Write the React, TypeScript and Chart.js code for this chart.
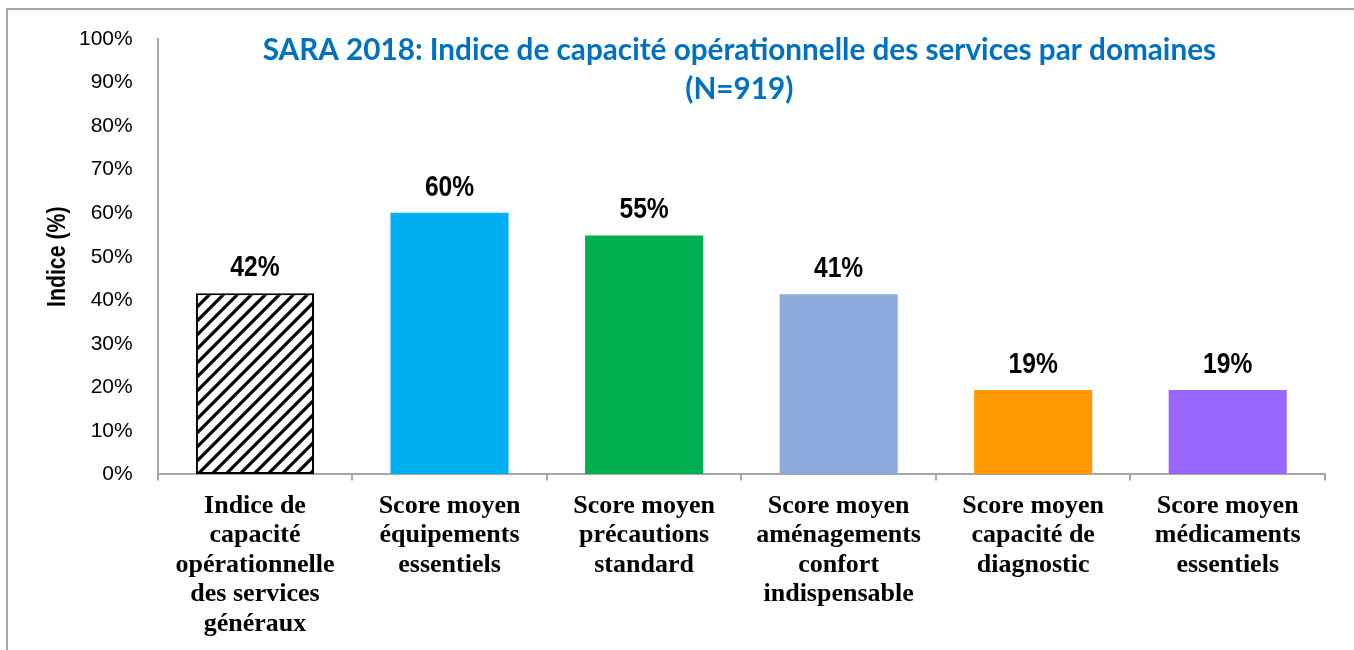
import React, { useEffect, useRef } from "react";
import { Chart, registerables } from "chart.js";

Chart.register(...registerables);

const categories: string[][] = [
  ["Indice de", "capacité", "opérationnelle", "des services", "généraux"],
  ["Score moyen", "équipements", "essentiels"],
  ["Score moyen", "précautions", "standard"],
  ["Score moyen", "aménagements", "confort", "indispensable"],
  ["Score moyen", "capacité de", "diagnostic"],
  ["Score moyen", "médicaments", "essentiels"],
];

const values: number[] = [41.6, 60.1, 54.9, 41.4, 19.4, 19.4];

const barColors: string[] = ["hatch", "#00B0F0", "#00B050", "#8EA9DB", "#FF9900", "#9966FF"];

const titleLines: string[] = [
  "SARA 2018: Indice de capacité opérationnelle des services par domaines",
  "(N=919)",
];

const yAxisTitle = "Indice (%)";

const AXIS_GRAY = "#A6A6A6";
const SANS = "'Liberation Sans', Arial, sans-serif";

function makeHatch(): CanvasPattern | string {
  const s = 14;
  const c = document.createElement("canvas");
  c.width = s;
  c.height = s;
  const g = c.getContext("2d");
  if (!g) return "#000";
  g.fillStyle = "#fff";
  g.fillRect(0, 0, s, s);
  g.strokeStyle = "#000";
  g.lineWidth = 3.2;
  g.lineCap = "square";
  for (const k of [0, s, 2 * s]) {
    g.beginPath();
    g.moveTo(k - s - 2, s + 2);
    g.lineTo(k + 2, -2);
    g.stroke();
  }
  const p = g.createPattern(c, "repeat");
  return p || "#000";
}

const frameAndText = {
  id: "frameAndText",
  beforeDraw(chart: any) {
    const ctx = chart.ctx;
    ctx.save();
    ctx.fillStyle = "#fff";
    ctx.fillRect(0, 0, chart.width, chart.height);
    ctx.strokeStyle = AXIS_GRAY;
    ctx.lineWidth = 2;
    ctx.beginPath();
    ctx.moveTo(7, chart.height);
    ctx.lineTo(7, 9);
    ctx.lineTo(chart.width, 9);
    ctx.stroke();
    ctx.restore();
  },
  afterDatasetsDraw(chart: any) {
    const ctx = chart.ctx;
    const meta = chart.getDatasetMeta(0);
    meta.data.forEach((bar: any, i: number) => {
      ctx.save();
      ctx.translate(bar.x, bar.y - 17);
      ctx.scale(0.82, 1);
      ctx.font = "bold 30px " + SANS;
      ctx.fillStyle = "#000";
      ctx.textAlign = "center";
      ctx.textBaseline = "alphabetic";
      ctx.fillText(Math.round(values[i]) + "%", 0, 0);
      ctx.restore();
    });
    const area = chart.chartArea;
    // y axis title
    ctx.save();
    ctx.translate(58, (area.top + area.bottom) / 2);
    ctx.rotate(-Math.PI / 2);
    ctx.scale(0.85, 1);
    ctx.font = "bold 25px " + SANS;
    ctx.fillStyle = "#000";
    ctx.textAlign = "center";
    ctx.textBaseline = "middle";
    ctx.fillText(yAxisTitle, 0, 0);
    ctx.restore();
    // chart title
    ctx.save();
    const cx = (area.left + area.right) / 2 - 2;
    ctx.font = "bold 29.7px Lato, 'Open Sans', sans-serif";
    ctx.fillStyle = "#0070C0";
    ctx.textAlign = "center";
    ctx.textBaseline = "middle";
    ctx.fillText(titleLines[0], cx, area.top + 11);
    ctx.fillText(titleLines[1], cx, area.top + 50);
    ctx.restore();
  },
};

export default function App() {
  const ref = useRef<HTMLCanvasElement | null>(null);
  useEffect(() => {
    if (!ref.current) return;
    const hatch = makeHatch();
    const bg = barColors.map((c) => (c === "hatch" ? hatch : c));
    const chart = new Chart(ref.current, {
      type: "bar",
      data: {
        labels: categories,
        datasets: [
          {
            data: values,
            backgroundColor: bg as any,
            borderColor: "#000",
            borderWidth: [2, 0, 0, 0, 0, 0],
            borderSkipped: false,
            barPercentage: 0.607,
            categoryPercentage: 1,
          },
        ],
      },
      options: {
        animation: false,
        responsive: true,
        maintainAspectRatio: false,
        layout: { padding: { left: 54, right: 29, top: 39, bottom: 0 } },
        plugins: {
          legend: { display: false },
          title: { display: false },
          tooltip: { enabled: false },
        },
        scales: {
          x: {
            grid: {
              offset: true,
              drawOnChartArea: false,
              drawTicks: true,
              tickLength: 6,
              color: AXIS_GRAY,
              lineWidth: 2,
            },
            border: { display: true, color: AXIS_GRAY, width: 2 },
            ticks: {
              color: "#000",
              padding: 11,
              maxRotation: 0,
              autoSkip: false,
              font: { family: "'Liberation Serif', 'Times New Roman', serif", size: 26, weight: "bold", lineHeight: 1.135 },
            },
          },
          y: {
            min: 0,
            max: 100,
            grid: { display: true, drawOnChartArea: false, drawTicks: false },
            border: { display: true, color: AXIS_GRAY, width: 2 },
            ticks: {
              stepSize: 10,
              padding: 25,
              color: "#000",
              font: { family: SANS, size: 21 },
              callback: (v: any) => v + "%",
            },
          },
        },
      },
      plugins: [frameAndText],
    });
    return () => chart.destroy();
  }, []);
  return (
    <div style={{ position: "fixed", left: 0, top: 0, width: 1354, height: 650 }}>
      <canvas ref={ref} />
    </div>
  );
}
